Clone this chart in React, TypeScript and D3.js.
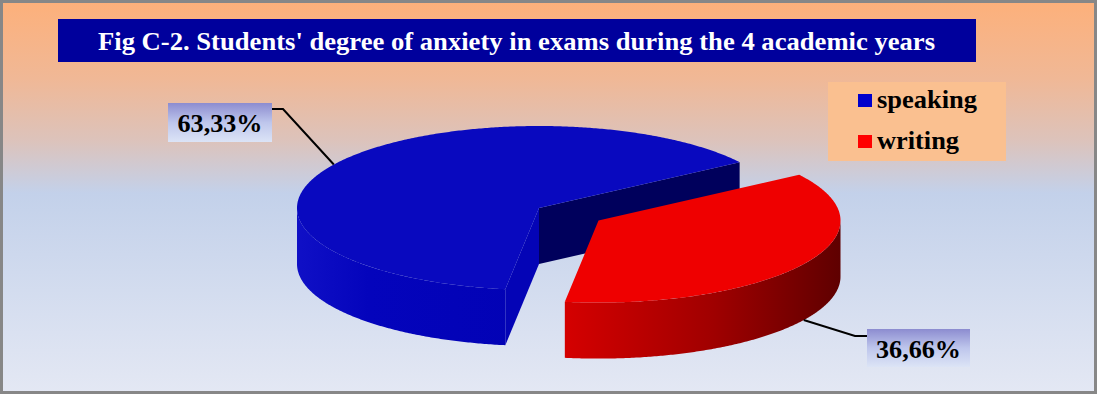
import React from "react";
import * as d3 from "d3";

const categories = ["speaking", "writing"];
const values = [63.33, 36.66];
const valueLabels = ["63,33%", "36,66%"];
const title = "Fig C-2. Students' degree of anxiety in exams during the 4 academic years";

const W = 1097;
const H = 394;
const CX = 539;
const CY = 208;
const RX = 242;
const RY = 82;
const DEPTH = 56;
const EXPLODE = [0, 0.29];
const START_DEG = 188;

const topColors = ["#0909BF", "#EF0000"];
const deg = Math.PI / 180;

type Pt = [number, number];

function ellPt(cx: number, cy: number, t: number, dy = 0): Pt {
  return [cx + RX * Math.cos(t), cy + RY * Math.sin(t) + dy];
}
function arcPts(cx: number, cy: number, t0: number, t1: number, dy = 0): Pt[] {
  const n = Math.max(2, Math.ceil(Math.abs(t1 - t0) / (0.5 * deg)) + 1);
  const out: Pt[] = [];
  for (let i = 0; i < n; i++) {
    const t = t0 + ((t1 - t0) * i) / (n - 1);
    out.push(ellPt(cx, cy, t, dy));
  }
  return out;
}
const toPath = (pts: Pt[]) => "M" + pts.map((p) => p[0].toFixed(2) + "," + p[1].toFixed(2)).join("L") + "Z";

export default function App() {
  const pie = d3
    .pie<number>()
    .sort(null)
    .startAngle(START_DEG * deg)
    .endAngle(START_DEG * deg + 2 * Math.PI);
  const arcs = pie(values);

  const slices = arcs.map((a, i) => {
    const t0 = a.startAngle - Math.PI / 2;
    const t1 = a.endAngle - Math.PI / 2;
    const tm = (t0 + t1) / 2;
    const cx = CX + EXPLODE[i] * RX * Math.cos(tm);
    const cy = CY + EXPLODE[i] * RY * Math.sin(tm);
    const top = toPath([[cx, cy], ...arcPts(cx, cy, t0, t1)]);
    const sides: string[] = [];
    for (let k = Math.floor(t0 / (2 * Math.PI)) - 1; k <= Math.ceil(t1 / (2 * Math.PI)) + 1; k++) {
      const lo = Math.max(t0, 2 * k * Math.PI);
      const hi = Math.min(t1, 2 * k * Math.PI + Math.PI);
      if (hi > lo) {
        sides.push(toPath([...arcPts(cx, cy, lo, hi), ...arcPts(cx, cy, hi, lo, DEPTH)]));
      }
    }
    const radial = (t: number) =>
      toPath([[cx, cy], ellPt(cx, cy, t), ellPt(cx, cy, t, DEPTH), [cx, cy + DEPTH]]);
    const startFace = Math.cos(t0) < 0 ? radial(t0) : null;
    const endFace = Math.cos(t1) > 0 ? radial(t1) : null;
    return { i, cx, cy, tm, top, sides, startFace, endFace };
  });

  const sideFill = ["url(#blueSide)", "url(#redSide)"];
  const startFaceFill = ["#0404B6", "#B00000"];
  const endFaceFill = ["#00005C", "#600000"];

  const bA = ellPt(slices[0].cx, slices[0].cy, slices[0].tm);
  const rA = ellPt(slices[1].cx, slices[1].cy, slices[1].tm, DEPTH);

  const labelBoxes = [
    { x: 168, y: 103, w: 104, h: 39, elbow: [283, 109] as Pt, attach: [272, 109] as Pt, anchor: bA },
    { x: 867, y: 329, w: 103, h: 38, elbow: [855, 336] as Pt, attach: [867, 336] as Pt, anchor: rA },
  ];
  const legendTextLen = [100, 82];

  return (
    <svg
      width={W}
      height={H}
      style={{ position: "absolute", left: 0, top: 0, display: "block" }}
      fontFamily="'Liberation Serif', 'Times New Roman', serif"
    >
      <defs>
        <linearGradient id="bg" x1="0" y1="0" x2="0" y2="1">
          <stop offset="0" stopColor="#FDB07A" />
          <stop offset="0.2" stopColor="#F0B896" />
          <stop offset="0.36" stopColor="#DCC3BC" />
          <stop offset="0.49" stopColor="#C3D1EA" />
          <stop offset="1" stopColor="#E4E8F4" />
        </linearGradient>
        <linearGradient id="redSide" gradientUnits="userSpaceOnUse" x1="555" y1="0" x2="842" y2="0">
          <stop offset="0" stopColor="#D80000" />
          <stop offset="0.55" stopColor="#A00000" />
          <stop offset="1" stopColor="#5E0000" />
        </linearGradient>
        <linearGradient id="blueSide" gradientUnits="userSpaceOnUse" x1="295" y1="0" x2="540" y2="0">
          <stop offset="0" stopColor="#1010C6" />
          <stop offset="0.3" stopColor="#0404BC" />
          <stop offset="1" stopColor="#0202B4" />
        </linearGradient>
        <linearGradient id="lblBg" x1="0" y1="0" x2="0" y2="1">
          <stop offset="0" stopColor="#8C8CD0" />
          <stop offset="0.5" stopColor="#BEC6EC" />
          <stop offset="1" stopColor="#DCE4F6" />
        </linearGradient>
      </defs>
      <rect x={0} y={0} width={W} height={H} fill="url(#bg)" />
      <rect x={1.5} y={1.5} width={W - 3} height={H - 3} fill="none" stroke="#878787" strokeWidth={3} />

      <rect x={58} y={19} width={918} height={43} fill="#00009C" />
      <text
        x={98}
        y={50}
        fill="#FFFFFF"
        fontSize={26}
        fontWeight="bold"
        textLength={837}
        lengthAdjust="spacingAndGlyphs"
      >
        {title}
      </text>

      {slices.map((s) => (
        <g key={categories[s.i]}>
          {s.endFace && <path d={s.endFace} fill={endFaceFill[s.i]} />}
          {s.startFace && <path d={s.startFace} fill={startFaceFill[s.i]} />}
          {s.sides.map((d, j) => (
            <path key={j} d={d} fill={sideFill[s.i]} />
          ))}
          <path d={s.top} fill={topColors[s.i]} />
        </g>
      ))}

      {labelBoxes.map((b, i) => (
        <g key={valueLabels[i]}>
          <polyline
            points={[b.anchor, b.elbow, b.attach].map((p) => p.join(",")).join(" ")}
            fill="none"
            stroke="#000"
            strokeWidth={2}
          />
          <rect x={b.x} y={b.y} width={b.w} height={b.h} fill="url(#lblBg)" />
          <text
            x={b.x + b.w / 2}
            y={b.y + 29}
            textAnchor="middle"
            fontSize={26}
            fontWeight="bold"
            fill="#000"
            textLength={85}
            lengthAdjust="spacingAndGlyphs"
          >
            {valueLabels[i]}
          </text>
        </g>
      ))}

      <rect x={828} y={82} width={178} height={79} fill="#FAC090" />
      {categories.map((c, i) => (
        <g key={c}>
          <rect x={858} y={94 + i * 41} width={14} height={13} fill={i === 0 ? "#0000CC" : "#FF0000"} />
          <text
            x={877}
            y={108 + i * 41}
            fontSize={25}
            fontWeight="bold"
            fill="#000"
            textLength={legendTextLen[i]}
            lengthAdjust="spacingAndGlyphs"
          >
            {c}
          </text>
        </g>
      ))}
    </svg>
  );
}
